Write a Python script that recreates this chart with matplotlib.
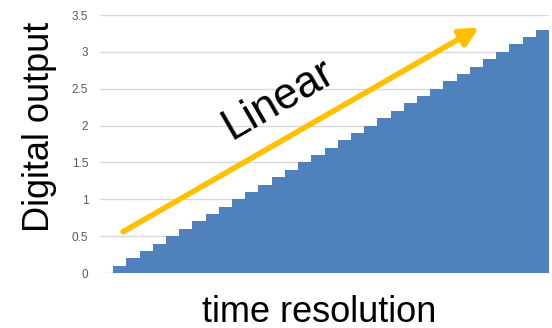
import matplotlib.pyplot as plt
import numpy as np

plt.rcParams["font.family"] = ["Liberation Sans", "DejaVu Sans"]

# 数据：时间步与数字输出（线性阶梯）
steps = list(range(34))
output = [0.0, 0.1, 0.2, 0.3, 0.4, 0.5, 0.6, 0.7, 0.8, 0.9,
          1.0, 1.1, 1.2, 1.3, 1.4, 1.5, 1.6, 1.7, 1.8, 1.9,
          2.0, 2.1, 2.2, 2.3, 2.4, 2.5, 2.6, 2.7, 2.8, 2.9,
          3.0, 3.1, 3.2, 3.3]
y_ticks = [0, 0.5, 1, 1.5, 2, 2.5, 3, 3.5]
y_tick_labels = ["0", "0.5", "1", "1.5", "2", "2.5", "3", "3.5"]

# 箭头起止点（数据坐标）
arrow_start = (1.25, 0.56)
arrow_end = (28.2, 3.33)

fig = plt.figure(figsize=(5.52, 3.28), dpi=100)
ax = fig.add_axes([100 / 552, 55 / 328, 449 / 552, 258 / 328])

ax.bar(steps, output, width=1.0, color="#4F81BD", linewidth=0, zorder=2)

ax.set_xlim(-0.5, len(steps) - 0.5)
ax.set_ylim(0, 3.5)
ax.set_yticks(y_ticks)
ax.set_yticklabels(y_tick_labels)
ax.set_xticks([])
ax.tick_params(axis="y", length=0, pad=8.5, labelsize=8.5, labelcolor="#595959")
ax.grid(axis="y", color="#d9d9d9", linewidth=1, zorder=0)
for s in ax.spines.values():
    s.set_visible(False)

# 坐标轴标题（用 fig.text 精确定位）
fig.text(40 / 552, 1 - 127 / 328, "Digital output", fontsize=26,
         rotation=90, ha="center", va="center")
fig.text(319 / 552, 1 - 312 / 328, "time resolution", fontsize=26,
         ha="center", va="center")

# 黄色箭头
ax.annotate("", xy=arrow_end, xytext=arrow_start,
            arrowprops=dict(arrowstyle="-|>,head_length=1.1,head_width=0.55",
                            color="#FFC000", lw=4, shrinkA=0, shrinkB=0),
            zorder=3)

ax.text(13.0, 2.35, "Linear", fontsize=31.5, rotation=30,
        ha="center", va="center", rotation_mode="anchor")

fig.savefig("out.png", dpi=100)
